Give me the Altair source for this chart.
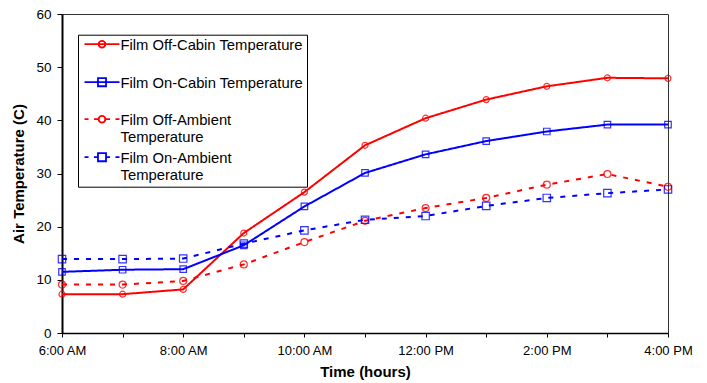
import altair as alt
import pandas as pd

# ---- data ----
hours = [6, 7, 8, 9, 10, 11, 12, 13, 14, 15, 16]
hour_labels = ["6:00 AM", "", "8:00 AM", "", "10:00 AM", "", "12:00 PM", "", "2:00 PM", "", "4:00 PM"]

series_names = [
    "Film Off-Cabin Temperature",
    "Film On-Cabin Temperature",
    "Film Off-Ambient Temperature",
    "Film On-Ambient Temperature",
]
legend_lines = [
    ["Film Off-Cabin Temperature", ""],
    ["Film On-Cabin Temperature", ""],
    ["Film Off-Ambient", "Temperature"],
    ["Film On-Ambient", "Temperature"],
]
off_cabin = [7.3, 7.3, 8.2, 18.8, 26.5, 35.3, 40.4, 43.9, 46.4, 48.0, 47.9]
on_cabin = [11.5, 11.9, 12.0, 16.5, 23.8, 30.1, 33.6, 36.1, 37.9, 39.2, 39.2]
off_ambient = [9.1, 9.1, 9.8, 12.9, 17.1, 21.1, 23.5, 25.4, 27.9, 29.9, 27.5]
on_ambient = [13.9, 13.9, 14.0, 16.8, 19.3, 21.3, 22.0, 23.9, 25.4, 26.3, 27.0]

colors = ["#ff0000", "#0000ff", "#ff0000", "#0000ff"]
dashes = [[1, 0], [1, 0], [5, 7], [5, 7]]
markers = ["circle", "square", "circle", "square"]

# legend symbols: line segment + marker (custom paths, unit = 11.5 px)
yo = -0.52
circ = f"M-0.29,{yo} A0.29,0.29 0 1,1 0.29,{yo} A0.29,0.29 0 1,1 -0.29,{yo}"
sq = f"M-0.35,{yo-0.35:.2f} L0.35,{yo-0.35:.2f} L0.35,{yo+0.35:.2f} L-0.35,{yo+0.35:.2f} Z"
solid = f"M-1.52,{yo} L1.52,{yo}"
dashed = (f"M-1.52,{yo} L-1.17,{yo} M-0.7,{yo} L-0.35,{yo} "
          f"M0.35,{yo} L0.7,{yo} M1.17,{yo} L1.52,{yo}")
legend_paths = [solid + " " + circ, solid + " " + sq, dashed + " " + circ, dashed + " " + sq]

rows = []
for name, vals in zip(series_names, [off_cabin, on_cabin, off_ambient, on_ambient]):
    for h, v in zip(hours, vals):
        rows.append({"hour": h, "temp": v, "series": name})
df = pd.DataFrame(rows)

x_label_expr = " : ".join(
    [f"datum.value == {h} ? '{l}'" for h, l in zip(hours, hour_labels)] + ["''"]
)
leg_expr = " : ".join(
    [f"datum.label == '{n}' ? ['{a}', '{b}']" for n, (a, b) in zip(series_names, legend_lines)]
    + ["[datum.label]"]
)

FONT = "Liberation Sans"

x_enc = alt.X(
    "hour:Q",
    scale=alt.Scale(domain=[6, 16], nice=False, zero=False),
    axis=alt.Axis(
        values=hours, labelExpr=x_label_expr, title="Time (hours)", grid=False,
        tickSize=4, labelPadding=7, labelFontSize=13, titleFontSize=15,
        titleFontWeight="bold", titlePadding=7, domainColor="black",
        domainWidth=1.5, tickColor="black", labelColor="black", labelFlush=False,
    ),
)
y_enc = alt.Y(
    "temp:Q",
    scale=alt.Scale(domain=[0, 60], nice=False),
    axis=alt.Axis(
        values=[0, 10, 20, 30, 40, 50, 60], title="Air Temperature (C)", grid=False,
        tickSize=5, labelPadding=6, labelFontSize=13.5, titleFontSize=15,
        titleFontWeight="bold", titlePadding=9, domainColor="black",
        domainWidth=2, tickColor="black", labelColor="black",
    ),
)

lines = alt.Chart(df).mark_line(strokeWidth=2).encode(
    x=x_enc, y=y_enc,
    color=alt.Color("series:N", scale=alt.Scale(domain=series_names, range=colors), legend=None),
    strokeDash=alt.StrokeDash("series:N", scale=alt.Scale(domain=series_names, range=dashes), legend=None),
    detail="series:N",
)

points = alt.Chart(df).mark_point(filled=False, strokeWidth=1.2, opacity=0.8).encode(
    x=x_enc, y=y_enc,
    color=alt.Color("series:N", scale=alt.Scale(domain=series_names, range=colors), legend=None),
    shape=alt.Shape("series:N", scale=alt.Scale(domain=series_names, range=markers), legend=None),
    size=alt.Size("series:N", scale=alt.Scale(domain=series_names, range=[36, 55, 36, 55]), legend=None),
)

leg = alt.Legend(
    title=None, orient="none", legendX=16, legendY=20.7,
    labelExpr=leg_expr, labelBaseline="alphabetic", labelFontSize=14.8,
    labelFont=FONT, labelLimit=400, labelOffset=6, symbolOffset=8.5,
    symbolSize=529, symbolStrokeWidth=1.8, symbolOpacity=1, rowPadding=3, padding=3,
    strokeColor="black", fillColor="white", labelColor="black",
)

legend_layer = alt.Chart(df).transform_filter("false").mark_point(
    filled=False, strokeWidth=1.8, opacity=1
).encode(
    x=x_enc, y=y_enc,
    color=alt.Color("series:N", scale=alt.Scale(domain=series_names, range=colors), legend=leg),
    shape=alt.Shape("series:N", scale=alt.Scale(domain=series_names, range=legend_paths), legend=leg),
)

chart = alt.layer(lines, points, legend_layer).resolve_scale(
    color="independent", shape="independent", strokeDash="independent", size="independent"
).properties(
    width=606, height=319,
    autosize=alt.AutoSizeParams(type="none"),
    padding={"left": 62, "top": 14, "right": 39, "bottom": 50},
).configure(
    font=FONT,
).configure_view(
    stroke="#333", strokeWidth=1,
).configure_legend(
    strokeWidth=1,
)

chart.save("out.html", embed_options={"renderer": "svg", "actions": False})
